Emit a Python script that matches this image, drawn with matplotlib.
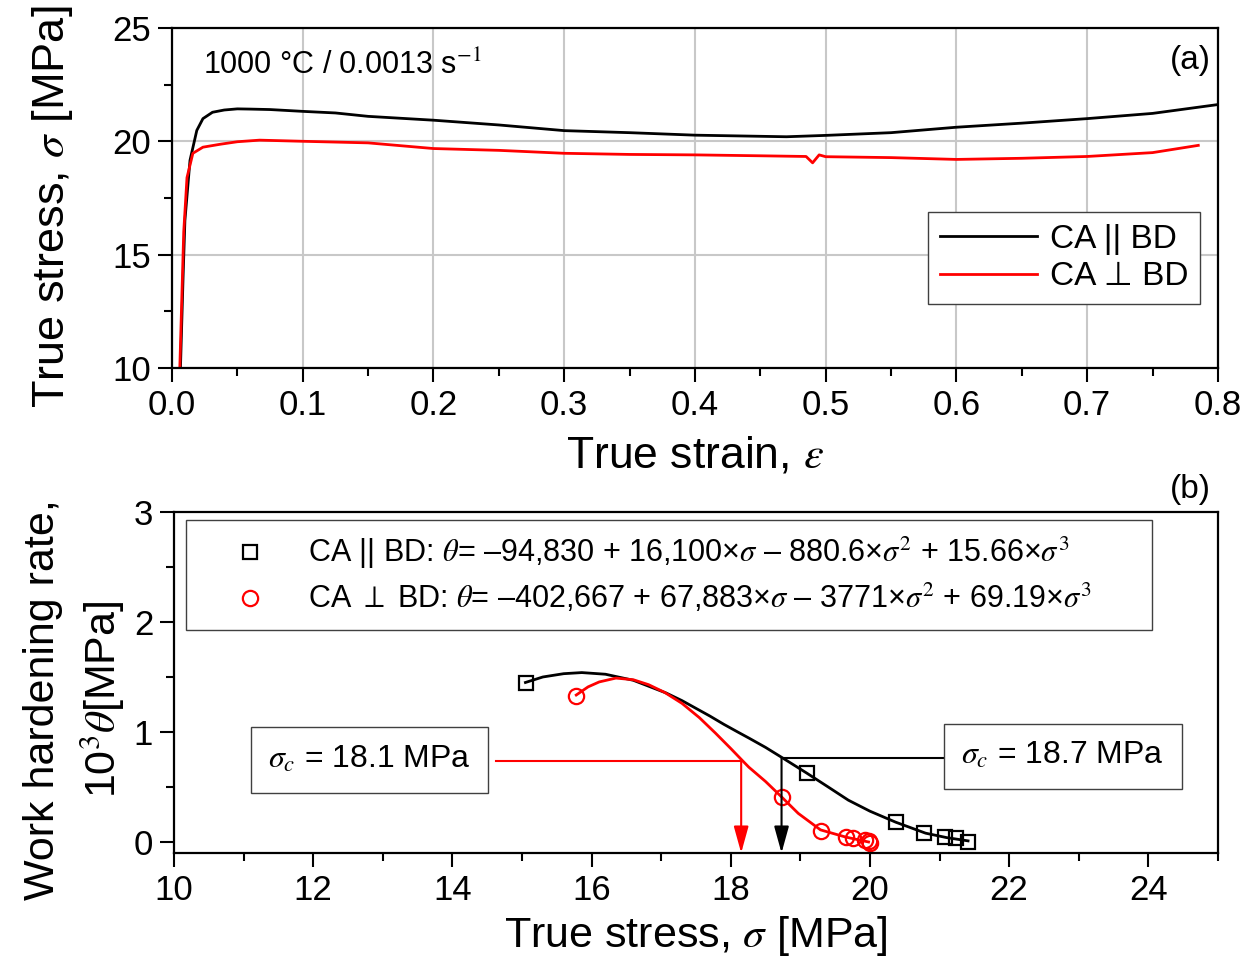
import matplotlib
matplotlib.use("Agg")
import matplotlib.pyplot as plt
from matplotlib.ticker import MultipleLocator, FormatStrFormatter

plt.rcParams['font.family'] = ['Liberation Sans', 'DejaVu Sans']
plt.rcParams['mathtext.fontset'] = 'stix'

# (a) flow curves, 1000 C / 0.0013 s^-1
strain_par = [0.0065, 0.0085, 0.0099, 0.0138, 0.019, 0.0237, 0.031, 0.04, 0.05, 0.06, 0.075,
              0.1, 0.125, 0.15, 0.2, 0.25, 0.3, 0.35, 0.4, 0.45, 0.47, 0.5, 0.55, 0.6,
              0.65, 0.7, 0.75, 0.8]
stress_par = [10.0, 14.0, 16.5, 19.16, 20.48, 21.0, 21.28, 21.38, 21.43, 21.42, 21.4,
              21.32, 21.25, 21.1, 20.93, 20.72, 20.47, 20.38, 20.27, 20.22, 20.2, 20.26, 20.38, 20.62,
              20.8, 21.0, 21.23, 21.62]

strain_perp = [0.006, 0.0075, 0.009, 0.0115, 0.016, 0.0237, 0.037, 0.05, 0.067, 0.1, 0.15,
               0.2, 0.25, 0.3, 0.35, 0.4, 0.45, 0.485, 0.49, 0.495, 0.5, 0.55, 0.6, 0.65,
               0.7, 0.75, 0.785]
stress_perp = [10.0, 13.0, 16.0, 18.4, 19.47, 19.74, 19.87, 19.98, 20.05, 20.0, 19.93,
               19.68, 19.6, 19.47, 19.42, 19.4, 19.36, 19.33, 19.05, 19.4, 19.32, 19.28, 19.2, 19.25,
               19.33, 19.5, 19.82]

# (b) work hardening rate vs true stress
par_sig = [15.06, 19.09, 20.37, 20.77, 21.08, 21.24, 21.41]
par_theta = [1.445, 0.627, 0.18, 0.08, 0.045, 0.036, 0.0]
perp_sig = [15.78, 18.73, 19.29, 19.65, 19.76, 19.93, 19.98, 20.0]
perp_theta = [1.33, 0.41, 0.10, 0.045, 0.036, 0.018, 0.005, -0.005]

fit_par_sig = [15.05, 15.3, 15.6, 15.86, 16.2, 16.6, 17.07, 17.3, 17.5, 17.7, 17.9, 18.1, 18.26,
               18.5, 18.73, 19.09, 19.4, 19.69, 20.0, 20.37, 20.8, 21.1, 21.41]
fit_par_theta = [1.45, 1.50, 1.53, 1.54, 1.525, 1.47, 1.355, 1.285, 1.215, 1.145, 1.07, 1.0, 0.945,
                 0.86, 0.77, 0.627, 0.5, 0.38, 0.28, 0.18, 0.08, 0.04, 0.01]
fit_perp_sig = [15.78, 15.95, 16.11, 16.35, 16.6, 16.82, 17.05, 17.3, 17.55, 17.78, 18.0,
                18.16, 18.26, 18.5, 18.73, 18.97, 19.29, 19.65, 19.98]
fit_perp_theta = [1.336, 1.41, 1.455, 1.49, 1.475, 1.43, 1.36, 1.26, 1.13, 0.99, 0.85,
                  0.745, 0.68, 0.55, 0.41, 0.26, 0.11, 0.045, 0.0]

sigma_c = [18.15, 18.73]
theta_c = [0.736, 0.764]
sigma_c_labels = ['18.1', '18.7']

RED = '#ff0000'

fig = plt.figure(figsize=(12.57, 9.57), dpi=100)
ax1 = fig.add_axes([0.1368, 0.6155, 0.8321, 0.3553])
ax2 = fig.add_axes([0.1384, 0.1087, 0.8305, 0.3563])

for ax in (ax1, ax2):
    for s in ax.spines.values():
        s.set_linewidth(1.6)
    ax.tick_params(which='major', direction='out', length=10, width=1.5, labelsize=25, pad=5)
    ax.tick_params(which='minor', direction='out', length=5.5, width=1.5)
    ax.tick_params(top=False, right=False)

# ---- panel (a)
ax1.plot(strain_par, stress_par, color='black', lw=2, label='CA || BD')
ax1.plot(strain_perp, stress_perp, color=RED, lw=2, label='CA ⊥ BD')
ax1.set_xlim(0, 0.8)
ax1.set_ylim(10, 25)
ax1.xaxis.set_major_locator(MultipleLocator(0.1))
ax1.xaxis.set_minor_locator(MultipleLocator(0.05))
ax1.xaxis.set_major_formatter(FormatStrFormatter('%.1f'))
ax1.yaxis.set_major_locator(MultipleLocator(5))
ax1.yaxis.set_minor_locator(MultipleLocator(2.5))
ax1.grid(True, which='major', color='#c8c8c8', lw=1.5)
ax1.set_axisbelow(True)
ax1.set_xlabel(r'True strain, $\varepsilon$', fontsize=32)
ax1.set_ylabel(r'True stress, $\sigma$ [MPa]', fontsize=32.5)
ax1.xaxis.set_label_coords(0.5, -0.2)
ax1.yaxis.set_label_coords(-0.093, 0.474)
ax1.text(0.03, 0.89, r'1000 °C / 0.0013 s$^{-1}$', transform=ax1.transAxes,
         fontsize=22, va='center', ha='left')
ax1.text(0.993, 0.905, '(a)', transform=ax1.transAxes, fontsize=24, ha='right', va='center')
leg1 = ax1.legend(loc='lower right', bbox_to_anchor=(0.983, 0.188), fontsize=24,
                  fancybox=False, edgecolor='#404040', framealpha=1, handlelength=2.9,
                  borderpad=0.35, labelspacing=0.2, handletextpad=0.4, borderaxespad=0)
leg1.get_frame().set_linewidth(1.0)

# ---- panel (b)
ax2.plot(fit_par_sig, fit_par_theta, color='black', lw=2)
ax2.plot(fit_perp_sig, fit_perp_theta, color=RED, lw=2)
ax2.plot(par_sig, par_theta, ls='none', marker='s', ms=10, mfc='none', mec='black', mew=1.6,
         label=r'CA || BD: $\theta$= –94,830 + 16,100×$\sigma$ – 880.6×$\sigma^2$ + 15.66×$\sigma^3$')
ax2.plot(perp_sig, perp_theta, ls='none', marker='o', ms=11, mfc='none', mec=RED, mew=1.6,
         label=r'CA $\bot$ BD: $\theta$= –402,667 + 67,883×$\sigma$ – 3771×$\sigma^2$ + 69.19×$\sigma^3$')
ax2.set_xlim(10, 25)
ax2.set_ylim(-0.1, 3)
ax2.xaxis.set_major_locator(MultipleLocator(2))
ax2.xaxis.set_minor_locator(MultipleLocator(1))
ax2.yaxis.set_major_locator(MultipleLocator(1))
ax2.yaxis.set_minor_locator(MultipleLocator(0.5))
ax2.set_xlabel(r'True stress, $\sigma$ [MPa]', fontsize=31)
ax2.set_ylabel('Work hardening rate,\n' + r'10$^3$$\theta$[MPa]', fontsize=31, linespacing=1.4)
ax2.xaxis.set_label_coords(0.5, -0.18)
ax2.yaxis.set_label_coords(-0.045, 0.45)
leg2 = ax2.legend(loc='upper left', bbox_to_anchor=(0.0115, 0.663, 0.925, 0.314), mode='expand',
                  fontsize=22, fancybox=False, edgecolor='#404040', framealpha=1,
                  handlelength=3.2, borderpad=0.5, labelspacing=0.35, handletextpad=0.3,
                  borderaxespad=0)
leg2.get_frame().set_linewidth(1.0)

# critical stress markers
line_start = [14.62, 21.17]
box_pos = [(12.81, 0.745), (22.77, 0.78)]
colors = [RED, 'black']
for sc, th, lab, x0, bp, c in zip(sigma_c, theta_c, sigma_c_labels, line_start, box_pos, colors):
    ax2.plot([x0, sc], [th, th], color=c, lw=1.5)
    ax2.annotate('', xy=(sc, -0.1), xytext=(sc, th),
                 arrowprops=dict(arrowstyle='-|>,head_length=0.65,head_width=0.18', color=c,
                                 lw=1.5, mutation_scale=25, shrinkA=0, shrinkB=0),
                 annotation_clip=False)
    ax2.text(bp[0], bp[1], r'$\sigma_c$ = ' + lab + ' MPa', fontsize=23, ha='center', va='center',
             bbox=dict(boxstyle='square,pad=0.55', fc='white', ec='#404040', lw=1.0))

fig.text(1190 / 1257, 1 - 490 / 957, '(b)', fontsize=24, ha='center', va='center')

fig.savefig('out.png', dpi=100)
